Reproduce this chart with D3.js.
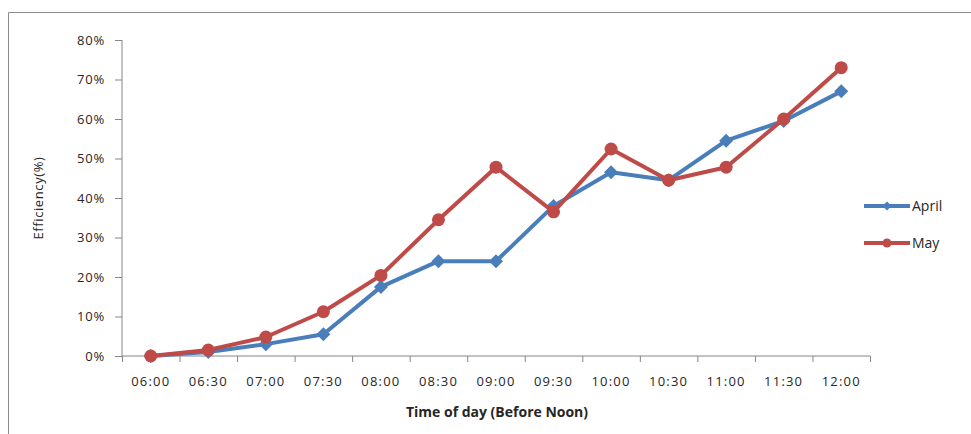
<!DOCTYPE html>
<html><head><meta charset="utf-8">
<script src="https://cdn.jsdelivr.net/npm/d3@7"></script>
<style>body{margin:0;background:#fff}svg{display:block}text{font-family:"Open Sans",sans-serif;fill:#262626}</style>
</head><body><svg id="c" width="971" height="434"></svg>
<script>
const categories = ["06:00","06:30","07:00","07:30","08:00","08:30","09:00","09:30","10:00","10:30","11:00","11:30","12:00"];
const april = [0,1,3,5.5,17.5,24,24,38,46.5,44.5,54.5,59.5,67];
const may = [0,1.5,4.8,11.2,20.4,34.5,47.8,36.5,52.4,44.5,47.8,60,73];
const yTicks = [0,10,20,30,40,50,60,70,80];
const seriesNames = ["April","May"];

const svg = d3.select("#c");
const colors = {April:"#4a7ebb", May:"#be4b48"};
// frame
svg.append("path").attr("d","M8.5,434 V12.5 H971").attr("fill","none").attr("stroke","#8c8c8c").attr("stroke-width",1);

const x = d3.scaleBand().domain(categories).range([122,870]);
const y = d3.scaleLinear().domain([0,80]).range([356,40]);

const gy = svg.append("g").attr("transform","translate(122,0)")
  .call(d3.axisLeft(y).tickValues(yTicks).tickFormat(d=>d+"%").tickSize(7).tickPadding(10));
gy.select(".domain").attr("stroke","#868686").attr("d","M0,40V356");
gy.selectAll(".tick line").attr("stroke","#868686");
gy.selectAll(".tick text").style("font-size","13px").style("letter-spacing","0.8px").attr("fill","#262626");

const gx = svg.append("g").attr("transform","translate(0,356)");
gx.append("line").attr("x1",122).attr("x2",870).attr("stroke","#868686");
const bounds = categories.map(c=>x(c)).concat([x.range()[1]]);
gx.selectAll("line.t").data(bounds).enter().append("line").attr("class","t")
  .attr("x1",d=>d+0.5).attr("x2",d=>d+0.5).attr("y1",0).attr("y2",6).attr("stroke","#868686");
gx.selectAll("text").data(categories).enter().append("text")
  .attr("x",d=>x(d)+x.bandwidth()/2).attr("y",30).attr("text-anchor","middle")
  .style("font-size","13px").style("letter-spacing","1.2px").text(d=>d);

svg.append("text").attr("x",497).attr("y",417).attr("text-anchor","middle")
  .style("font-size","14px").style("font-weight","bold").text("Time of day (Before Noon)");
svg.append("text").attr("transform","translate(43,198) rotate(-90)").attr("text-anchor","middle")
  .style("font-size","13px").style("letter-spacing","0.6px").text("Efficiency(%)");

const cx = c=>x(c)+x.bandwidth()/2;
const line = d3.line().x((d,i)=>cx(categories[i])).y(d=>y(d));
const diamondPath = r => `M0,${-r}L${r},0L0,${r}L${-r},0Z`;

function drawSeries(name, vals, isDiamond){
  const g = svg.append("g");
  g.append("path").datum(vals).attr("d",line).attr("fill","none")
    .attr("stroke",colors[name]).attr("stroke-width",4).attr("stroke-linejoin","round");
  if(isDiamond){
    g.selectAll("path.m").data(vals).enter().append("path").attr("class","m")
      .attr("d",diamondPath(7)).attr("transform",(d,i)=>`translate(${cx(categories[i])},${y(d)})`).attr("fill",colors[name]);
  } else {
    g.selectAll("circle").data(vals).enter().append("circle")
      .attr("cx",(d,i)=>cx(categories[i])).attr("cy",d=>y(d)).attr("r",6.5).attr("fill",colors[name]);
  }
}
drawSeries("April", april, true);
drawSeries("May", may, false);

// legend
const leg = svg.append("g");
seriesNames.forEach((n,i)=>{
  const ly = 206 + i*37;
  leg.append("line").attr("x1",864).attr("x2",910).attr("y1",ly).attr("y2",ly).attr("stroke",colors[n]).attr("stroke-width",4);
  if(i===0) leg.append("path").attr("d",diamondPath(4.5)).attr("transform",`translate(887,${ly})`).attr("fill",colors[n]);
  else leg.append("circle").attr("cx",887).attr("cy",ly).attr("r",4.5).attr("fill",colors[n]);
  leg.append("text").attr("x",912).attr("y",ly+5).style("font-size","14px").text(n);
});
</script></body></html>
